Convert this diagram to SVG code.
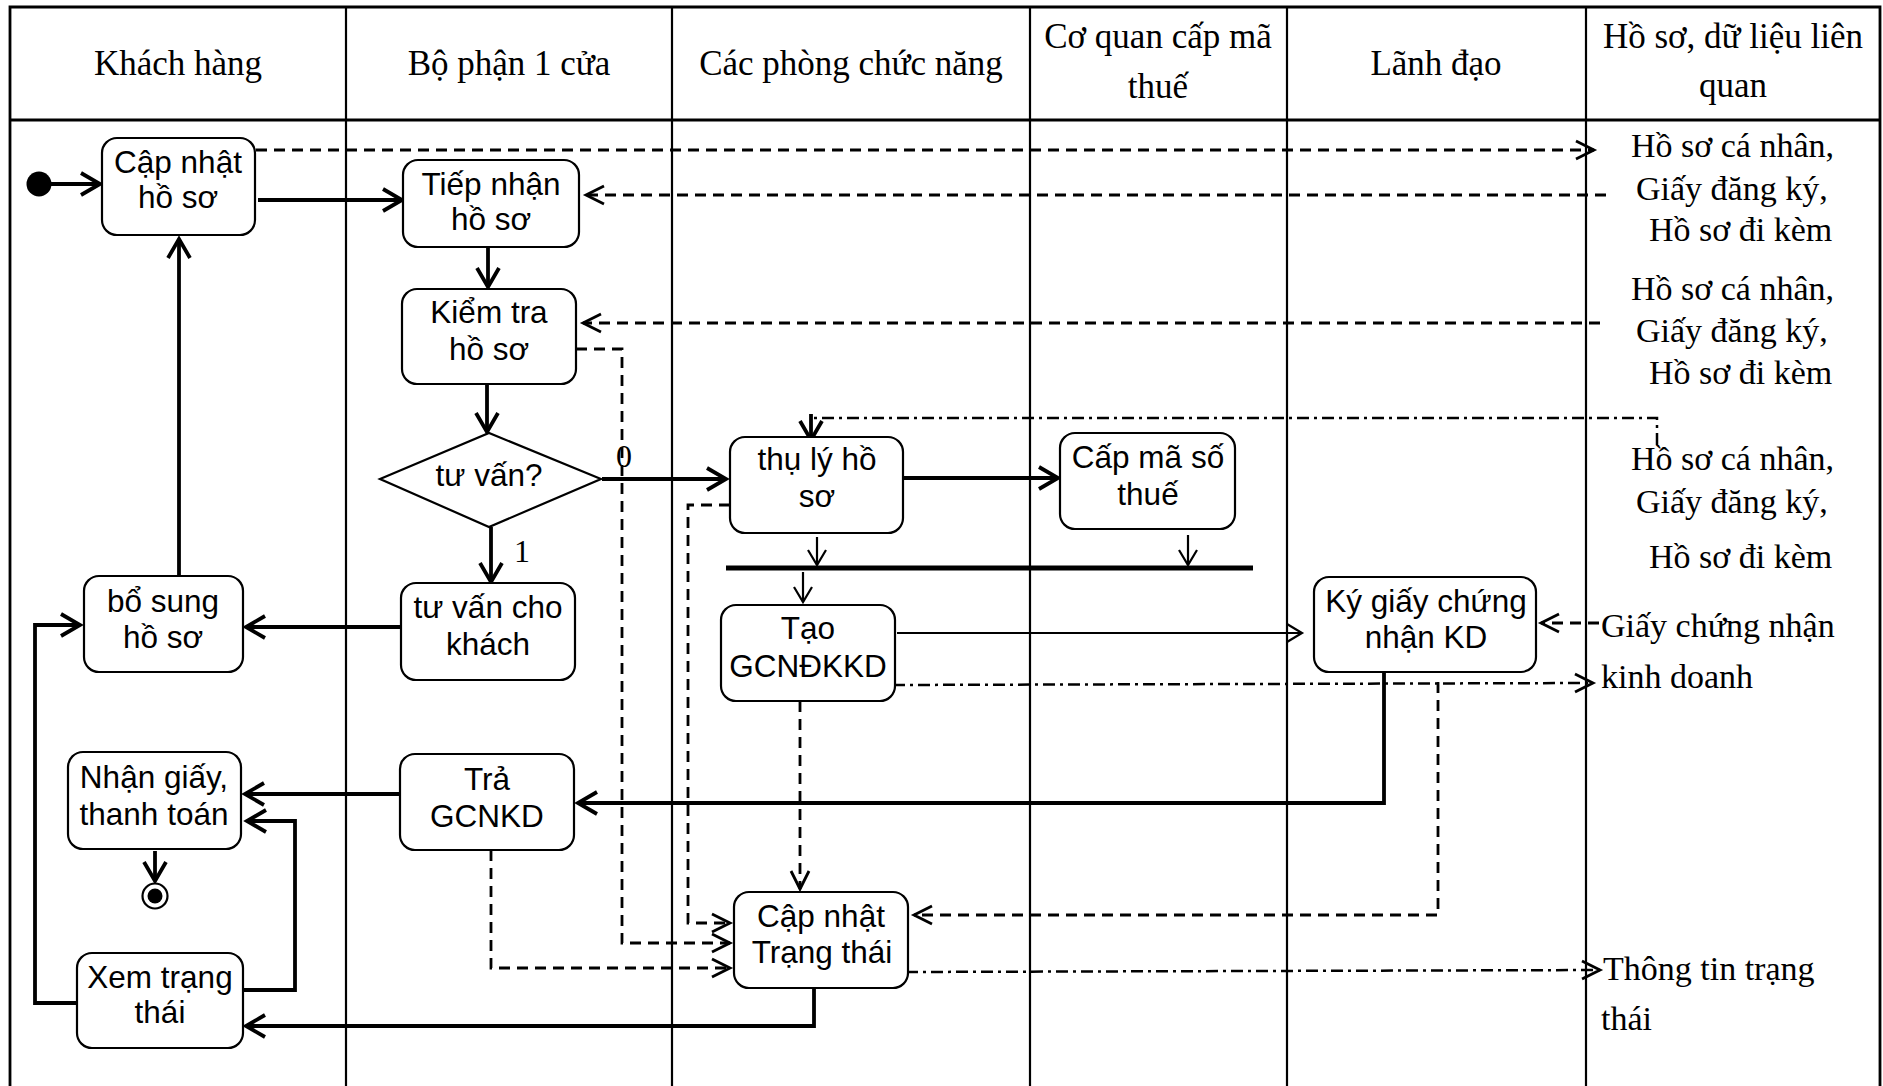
<svg xmlns="http://www.w3.org/2000/svg" width="1883" height="1086" viewBox="0 0 1883 1086">
  <style>
    .lane { stroke: #000; stroke-width: 2.2; fill: none; }
    .frame { stroke: #000; stroke-width: 2.8; fill: none; }
    .box { fill: #fff; stroke: #000; stroke-width: 2.2; }
    .t { font-family: "Liberation Sans", Arial, sans-serif; font-size: 31.5px; text-anchor: middle; fill: #000; }
    .h { font-family: "Liberation Serif", "Times New Roman", serif; font-size: 35px; text-anchor: middle; fill: #000; }
    .d { font-family: "Liberation Serif", "Times New Roman", serif; font-size: 34px; fill: #000; }
    .g { font-family: "Liberation Serif", "Times New Roman", serif; font-size: 32px; fill: #000; text-anchor: middle; }
    .thick { stroke: #000; stroke-width: 3.8; fill: none; }
    .thin { stroke: #000; stroke-width: 2.2; fill: none; }
    .dash { stroke: #000; stroke-width: 2.8; fill: none; stroke-dasharray: 11 7; }
    .dashdot { stroke: #000; stroke-width: 2.5; fill: none; stroke-dasharray: 12 5 3 5; }
  </style>
  <defs>
    <marker id="ahThick" viewBox="-24 -15 30 30" refX="0" refY="0" markerWidth="30" markerHeight="30" markerUnits="userSpaceOnUse" orient="auto">
      <path d="M-19,-11 L0,0 L-19,11" fill="none" stroke="#000" stroke-width="3.8"/>
    </marker>
    <marker id="ahThin" viewBox="-20 -12 24 24" refX="0" refY="0" markerWidth="24" markerHeight="24" markerUnits="userSpaceOnUse" orient="auto">
      <path d="M-15,-9 L0,0 L-15,9" fill="none" stroke="#000" stroke-width="2.2"/>
    </marker>
    <marker id="ahDash" viewBox="-22 -13 26 26" refX="0" refY="0" markerWidth="26" markerHeight="26" markerUnits="userSpaceOnUse" orient="auto">
      <path d="M-18,-9 L0,0 L-18,9" fill="none" stroke="#000" stroke-width="2.8"/>
    </marker>
  </defs>

  <rect width="1883" height="1086" fill="#fff"/>

  <!-- swimlane table -->
  <g id="swimlanes">
    <path class="frame" d="M10,1086 V7 H1880 V1086"/>
    <line class="frame" x1="10" y1="120" x2="1880" y2="120"/>
    <line class="lane" x1="346" y1="7" x2="346" y2="1086"/>
    <line class="lane" x1="672" y1="7" x2="672" y2="1086"/>
    <line class="lane" x1="1030" y1="7" x2="1030" y2="1086"/>
    <line class="lane" x1="1287" y1="7" x2="1287" y2="1086"/>
    <line class="lane" x1="1586" y1="7" x2="1586" y2="1086"/>
    <text class="h" x="178" y="75">Khách hàng</text>
    <text class="h" x="509" y="75">Bộ phận 1 cửa</text>
    <text class="h" x="851" y="75">Các phòng chức năng</text>
    <text class="h" x="1158" y="48">Cơ quan cấp mã</text>
    <text class="h" x="1158" y="98">thuế</text>
    <text class="h" x="1436" y="75">Lãnh đạo</text>
    <text class="h" x="1733" y="48">Hồ sơ, dữ liệu liên</text>
    <text class="h" x="1733" y="97">quan</text>
  </g>

  <!-- connectors -->
  <g id="connectors">
    <!-- control flow -->
    <line class="thick" x1="51" y1="184" x2="100" y2="184" marker-end="url(#ahThick)"/>
    <line class="thick" x1="258" y1="200" x2="402" y2="200" marker-end="url(#ahThick)"/>
    <line class="thick" x1="488" y1="248" x2="488" y2="287" marker-end="url(#ahThick)"/>
    <line class="thick" x1="487" y1="385" x2="487" y2="432" marker-end="url(#ahThick)"/>
    <line class="thick" x1="602" y1="479" x2="726" y2="479" marker-end="url(#ahThick)"/>
    <line class="thick" x1="491" y1="527" x2="491" y2="582" marker-end="url(#ahThick)"/>
    <line class="thick" x1="401" y1="627" x2="246" y2="627" marker-end="url(#ahThick)"/>
    <line class="thick" x1="179" y1="576" x2="179" y2="239" marker-end="url(#ahThick)"/>
    <line class="thick" x1="400" y1="794" x2="245" y2="794" marker-end="url(#ahThick)"/>
    <path class="thick" d="M1384,672 V803 H578" marker-end="url(#ahThick)"/>
    <path class="thick" d="M814,988 V1026 H246" marker-end="url(#ahThick)"/>
    <path class="thick" d="M78,1003 H35 V625 H80" marker-end="url(#ahThick)"/>
    <path class="thick" d="M243,990 H295 V821 H247" marker-end="url(#ahThick)"/>
    <line class="thick" x1="903" y1="478" x2="1058" y2="478" marker-end="url(#ahThick)"/>
    <line class="thick" x1="155" y1="851" x2="155" y2="881" marker-end="url(#ahThick)"/>
    <line class="thin" x1="817" y1="537" x2="817" y2="565" marker-end="url(#ahThin)"/>
    <line class="thin" x1="1188" y1="535" x2="1188" y2="565" marker-end="url(#ahThin)"/>
    <line class="thin" x1="803" y1="572" x2="803" y2="602" marker-end="url(#ahThin)"/>
    <line class="thin" x1="897" y1="633" x2="1302" y2="633" marker-end="url(#ahThin)"/>
    <!-- fork / join bar -->
    <line x1="726" y1="568" x2="1253" y2="568" stroke="#000" stroke-width="5"/>

    <!-- object flow -->
    <line class="dash" x1="256" y1="150" x2="1594" y2="150" marker-end="url(#ahDash)"/>
    <line class="dash" x1="1606" y1="195" x2="586" y2="195" marker-end="url(#ahDash)"/>
    <line class="dash" x1="1600" y1="323" x2="583" y2="323" marker-end="url(#ahDash)"/>
    <path class="dash" d="M576,349 H622 V943 H730" marker-end="url(#ahDash)"/>
    <path class="dash" d="M730,505 H688 V923 H730" marker-end="url(#ahDash)"/>
    <path class="dash" d="M491,850 V968 H730" marker-end="url(#ahDash)"/>
    <line class="dash" x1="800" y1="701" x2="800" y2="889" marker-end="url(#ahDash)"/>
    <path class="dash" d="M1438,682 V915 H914" marker-end="url(#ahDash)"/>
    <line class="dash" x1="1599" y1="623" x2="1541" y2="623" marker-end="url(#ahDash)"/>

    <!-- data store flow -->
    <path class="dashdot" d="M1657,445 V418 H811"/>
    <line class="thick" x1="811" y1="414" x2="811" y2="440" marker-end="url(#ahThick)"/>
    <line class="dashdot" x1="893" y1="685" x2="1593" y2="683" marker-end="url(#ahDash)"/>
    <line class="dashdot" x1="906" y1="972" x2="1600" y2="970" marker-end="url(#ahDash)"/>

    <!-- guard labels -->
    <text class="g" x="624" y="467">0</text>
    <text class="g" x="522" y="562">1</text>
  </g>

  <!-- customer lane -->
  <g id="start">
    <circle cx="39" cy="184" r="12.5" fill="#000"/>
  </g>
  <g id="cap-nhat-ho-so">
    <rect class="box" x="102" y="138" width="153" height="97" rx="15"/>
    <text class="t" x="178" y="173">Cập nhật</text>
    <text class="t" x="178" y="208">hồ sơ</text>
  </g>
  <g id="bo-sung-ho-so">
    <rect class="box" x="84" y="576" width="159" height="96" rx="15"/>
    <text class="t" x="163" y="612">bổ sung</text>
    <text class="t" x="163" y="648">hồ sơ</text>
  </g>
  <g id="nhan-giay">
    <rect class="box" x="68" y="752" width="173" height="97" rx="15"/>
    <text class="t" x="154" y="788">Nhận giấy,</text>
    <text class="t" x="154" y="825">thanh toán</text>
  </g>
  <g id="end">
    <circle cx="155" cy="896" r="12.5" fill="#fff" stroke="#000" stroke-width="2.2"/>
    <circle cx="155" cy="896" r="7.5" fill="#000"/>
  </g>
  <g id="xem-trang-thai">
    <rect class="box" x="77" y="953" width="166" height="95" rx="15"/>
    <text class="t" x="160" y="988">Xem trạng</text>
    <text class="t" x="160" y="1023">thái</text>
  </g>

  <!-- one-stop desk lane -->
  <g id="tiep-nhan-ho-so">
    <rect class="box" x="403" y="160" width="176" height="87" rx="15"/>
    <text class="t" x="491" y="195">Tiếp nhận</text>
    <text class="t" x="491" y="230">hồ sơ</text>
  </g>
  <g id="kiem-tra-ho-so">
    <rect class="box" x="402" y="289" width="174" height="95" rx="15"/>
    <text class="t" x="489" y="323">Kiểm tra</text>
    <text class="t" x="489" y="360">hồ sơ</text>
  </g>
  <g id="tu-van-decision">
    <polygon points="380,479 489,433 601,479 489,527" fill="#fff" stroke="#000" stroke-width="2.2"/>
    <text class="t" x="489" y="486">tư vấn?</text>
  </g>
  <g id="tu-van-cho-khach">
    <rect class="box" x="401" y="583" width="174" height="97" rx="15"/>
    <text class="t" x="488" y="618">tư vấn cho</text>
    <text class="t" x="488" y="655">khách</text>
  </g>
  <g id="tra-gcnkd">
    <rect class="box" x="400" y="754" width="174" height="96" rx="15"/>
    <text class="t" x="487" y="790">Trả</text>
    <text class="t" x="487" y="827">GCNKD</text>
  </g>

  <!-- functional departments lane -->
  <g id="thu-ly-ho-so">
    <rect class="box" x="730" y="437" width="173" height="96" rx="15"/>
    <text class="t" x="817" y="470">thụ lý hồ</text>
    <text class="t" x="817" y="507">sơ</text>
  </g>
  <g id="tao-gcndkkd">
    <rect class="box" x="721" y="605" width="174" height="96" rx="15"/>
    <text class="t" x="808" y="639">Tạo</text>
    <text class="t" x="808" y="677">GCNĐKKD</text>
  </g>
  <g id="cap-nhat-trang-thai">
    <rect class="box" x="734" y="892" width="174" height="96" rx="15"/>
    <text class="t" x="821" y="927">Cập nhật</text>
    <text class="t" x="822" y="963">Trạng thái</text>
  </g>

  <!-- tax code authority lane -->
  <g id="cap-ma-so-thue">
    <rect class="box" x="1060" y="433" width="175" height="96" rx="15"/>
    <text class="t" x="1148" y="468">Cấp mã số</text>
    <text class="t" x="1148" y="505">thuế</text>
  </g>

  <!-- management lane -->
  <g id="ky-giay-chung-nhan">
    <rect class="box" x="1314" y="577" width="222" height="95" rx="15"/>
    <text class="t" x="1426" y="612">Ký giấy chứng</text>
    <text class="t" x="1426" y="648">nhận KD</text>
  </g>

  <!-- related documents lane -->
  <g id="ho-so-1">
    <text class="d" x="1631" y="157">Hồ sơ cá nhân,</text>
    <text class="d" x="1636" y="200">Giấy đăng ký,</text>
    <text class="d" x="1649" y="241">Hồ sơ đi kèm</text>
  </g>
  <g id="ho-so-2">
    <text class="d" x="1631" y="300">Hồ sơ cá nhân,</text>
    <text class="d" x="1636" y="342">Giấy đăng ký,</text>
    <text class="d" x="1649" y="384">Hồ sơ đi kèm</text>
  </g>
  <g id="ho-so-3">
    <text class="d" x="1631" y="470">Hồ sơ cá nhân,</text>
    <text class="d" x="1636" y="513">Giấy đăng ký,</text>
    <text class="d" x="1649" y="568">Hồ sơ đi kèm</text>
  </g>
  <g id="giay-chung-nhan">
    <text class="d" x="1601" y="637">Giấy chứng nhận</text>
    <text class="d" x="1601" y="688">kinh doanh</text>
  </g>
  <g id="thong-tin-trang-thai">
    <text class="d" x="1603" y="980">Thông tin trạng</text>
    <text class="d" x="1601" y="1030">thái</text>
  </g>
</svg>
